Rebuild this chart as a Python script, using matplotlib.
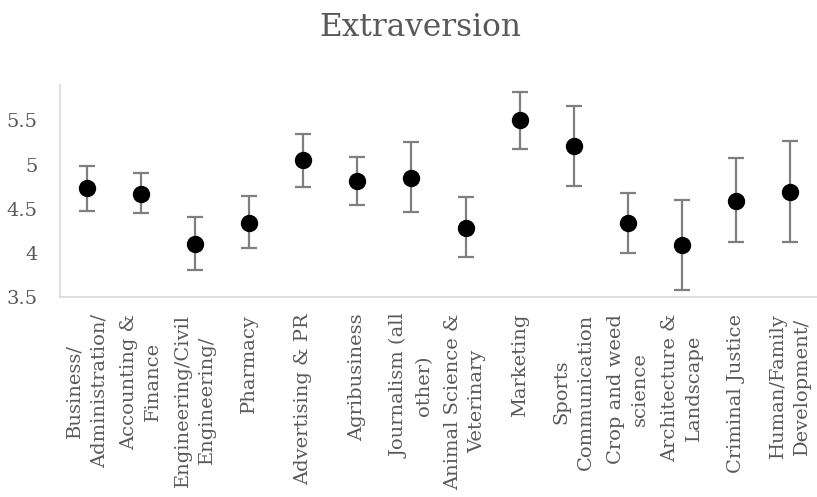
"""
Extraversion by field of study - mean with error bars
"""

import numpy as np
import matplotlib.pyplot as plt

# ---------------------------------------------
# DATA
# ---------------------------------------------
majors = [
    "Business/\nAdministration/",
    "Accounting &\nFinance",
    "Engineering/Civil\nEngineering/",
    "Pharmacy",
    "Advertising & PR",
    "Agribusiness",
    "Journalism (all\nother)",
    "Animal Science &\nVeterinary",
    "Marketing",
    "Sports\nCommunication",
    "Crop and weed\nscience",
    "Architecture &\nLandscape",
    "Criminal Justice",
    "Human/Family\nDevelopment/",
]
means     = [4.73, 4.67, 4.10, 4.34, 5.05, 4.81, 4.85, 4.28, 5.50, 5.21, 4.34, 4.09, 4.59, 4.69]
err_upper = [4.98, 4.90, 4.40, 4.64, 5.34, 5.08, 5.26, 4.63, 5.82, 5.66, 4.68, 4.60, 5.07, 5.27]
err_lower = [4.47, 4.45, 3.81, 4.06, 4.74, 4.54, 4.46, 3.95, 5.17, 4.76, 4.00, 3.58, 4.12, 4.12]
y_ticks   = [3.5, 4, 4.5, 5, 5.5]

TXT_GREY  = "#595959"
AXIS_GREY = "#d9d9d9"
BAR_GREY  = "#7f7f7f"

plt.rcParams["font.family"] = ["DejaVu Serif"]

# ---------------------------------------------
# PLOT
# ---------------------------------------------
fig = plt.figure(figsize=(8.17, 4.97), dpi=100)
ax = fig.add_axes([60 / 817, 1 - 297 / 497, 1 - 60 / 817, (297 - 85) / 497])

x = np.arange(len(majors))
means_arr = np.array(means)
yerr = [means_arr - np.array(err_lower), np.array(err_upper) - means_arr]

ax.errorbar(x, means, yerr=yerr, fmt="o", color="black", markersize=11.5,
            ecolor=BAR_GREY, elinewidth=1.6, capsize=5.8, capthick=1.6, zorder=3)

ax.set_xlim(-0.5, len(majors) - 0.5)
ax.set_ylim(3.5, 5.9)
ax.set_yticks(y_ticks)
ax.set_yticklabels([f"{v:g}" for v in y_ticks])
ax.set_xticks(x)
ax.set_xticklabels(majors, rotation=90, ha="center", va="top",
                   multialignment="center", linespacing=1.45)

ax.tick_params(axis="both", length=0, labelsize=14, colors=TXT_GREY)
ax.tick_params(axis="y", pad=16)
ax.tick_params(axis="x", pad=12)

for side in ["top", "right"]:
    ax.spines[side].set_visible(False)
for side in ["left", "bottom"]:
    ax.spines[side].set_color(AXIS_GREY)
    ax.spines[side].set_linewidth(1.2)

fig.text(420 / 817, 1 - 27 / 497, "Extraversion", ha="center", va="center",
         fontsize=22.5, color=TXT_GREY)

plt.savefig("out.png", dpi=100)
